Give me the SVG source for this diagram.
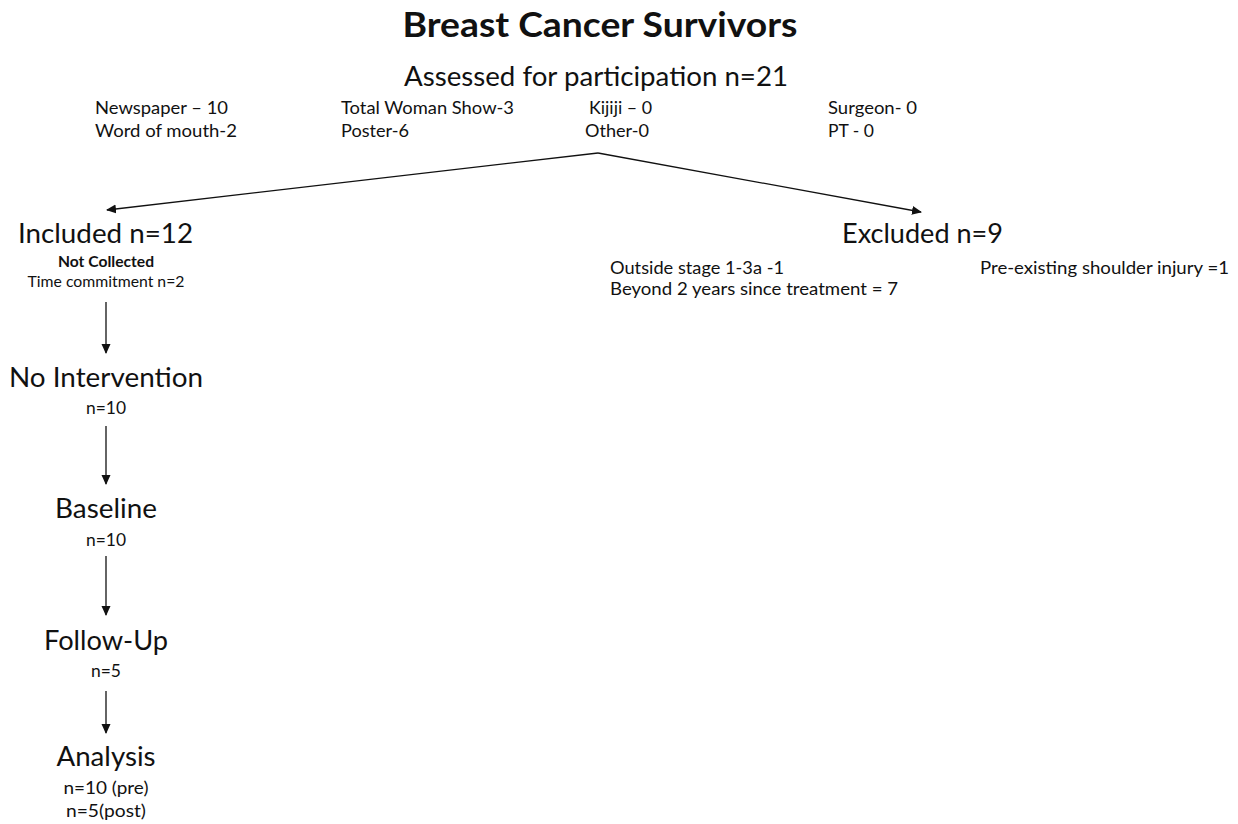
<svg xmlns="http://www.w3.org/2000/svg" width="1238" height="824" viewBox="0 0 1238 824">
<style>
text{font-family:Lato,Carlito,"Liberation Sans",sans-serif;fill:#111}
.t{font-size:34px;font-weight:bold;text-anchor:middle}
.h{font-size:27px}
.s{font-size:17.5px}
.m{font-size:16.5px;text-anchor:middle}
.c{text-anchor:middle}
.ln{stroke:#111;stroke-width:1.3;fill:none}
</style>
<defs>
<marker id="ah" viewBox="0 0 10 10" refX="9" refY="5" markerWidth="10" markerHeight="10" markerUnits="userSpaceOnUse" orient="auto"><path d="M0,0.5 L10,5 L0,9.5 z" fill="#111"/></marker>
</defs>
<rect width="1238" height="824" fill="#fff"/>
<g id="title"><text class="t" x="600" y="37" textLength="395" lengthAdjust="spacingAndGlyphs">Breast Cancer Survivors</text></g>
<g id="assessed">
<text class="h c" x="596" y="86" textLength="384" lengthAdjust="spacingAndGlyphs">Assessed for participation n=21</text>
<text class="s" x="95" y="114" textLength="133" lengthAdjust="spacingAndGlyphs">Newspaper – 10</text>
<text class="s" x="95" y="137" textLength="142" lengthAdjust="spacingAndGlyphs">Word of mouth-2</text>
<text class="s" x="341" y="114" textLength="173" lengthAdjust="spacingAndGlyphs">Total Woman Show-3</text>
<text class="s" x="341" y="137" textLength="68" lengthAdjust="spacingAndGlyphs">Poster-6</text>
<text class="s" x="589" y="114" textLength="63" lengthAdjust="spacingAndGlyphs">Kijiji – 0</text>
<text class="s" x="585" y="137" textLength="64" lengthAdjust="spacingAndGlyphs">Other-0</text>
<text class="s" x="828" y="114" textLength="89" lengthAdjust="spacingAndGlyphs">Surgeon- 0</text>
<text class="s" x="828" y="137" textLength="46" lengthAdjust="spacingAndGlyphs">PT - 0</text>
</g>
<g id="included">
<text class="h" x="18" y="243" textLength="175" lengthAdjust="spacingAndGlyphs">Included n=12</text>
<text class="c" x="106" y="267" textLength="96" lengthAdjust="spacingAndGlyphs" style="font-size:15px;font-weight:bold">Not Collected</text>
<text class="c" x="106" y="287" textLength="157" lengthAdjust="spacingAndGlyphs" style="font-size:15px">Time commitment n=2</text>
</g>
<g id="excluded">
<text class="h" x="842" y="243" textLength="161" lengthAdjust="spacingAndGlyphs">Excluded n=9</text>
<text class="s" x="610" y="274" textLength="174" lengthAdjust="spacingAndGlyphs">Outside stage 1-3a -1</text>
<text class="s" x="610" y="295" textLength="288" lengthAdjust="spacingAndGlyphs">Beyond 2 years since treatment = 7</text>
<text class="s" x="980" y="274" textLength="249" lengthAdjust="spacingAndGlyphs">Pre-existing shoulder injury =1</text>
</g>
<g id="nointervention">
<text class="h c" x="106" y="387" textLength="194" lengthAdjust="spacingAndGlyphs">No Intervention</text>
<text class="m" x="106" y="414" textLength="40" lengthAdjust="spacingAndGlyphs">n=10</text>
</g>
<g id="baseline">
<text class="h c" x="106" y="518" textLength="102" lengthAdjust="spacingAndGlyphs">Baseline</text>
<text class="m" x="106" y="546" textLength="40" lengthAdjust="spacingAndGlyphs">n=10</text>
</g>
<g id="followup">
<text class="h c" x="106" y="650" textLength="124" lengthAdjust="spacingAndGlyphs">Follow-Up</text>
<text class="m" x="106" y="677" textLength="30" lengthAdjust="spacingAndGlyphs">n=5</text>
</g>
<g id="analysis">
<text class="h c" x="106" y="766" textLength="99" lengthAdjust="spacingAndGlyphs">Analysis</text>
<text class="m" x="106" y="794" textLength="85" lengthAdjust="spacingAndGlyphs">n=10 (pre)</text>
<text class="m" x="106" y="817" textLength="80" lengthAdjust="spacingAndGlyphs">n=5(post)</text>
</g>
<g id="connectors">
<line class="ln" x1="598" y1="153" x2="107" y2="210" marker-end="url(#ah)"/>
<line class="ln" x1="598" y1="153" x2="921" y2="212" marker-end="url(#ah)"/>
<line class="ln" x1="106" y1="302" x2="106" y2="353" marker-end="url(#ah)"/>
<line class="ln" x1="106" y1="426" x2="106" y2="484" marker-end="url(#ah)"/>
<line class="ln" x1="106" y1="556" x2="106" y2="615" marker-end="url(#ah)"/>
<line class="ln" x1="106" y1="691" x2="106" y2="733" marker-end="url(#ah)"/>
</g>
</svg>
